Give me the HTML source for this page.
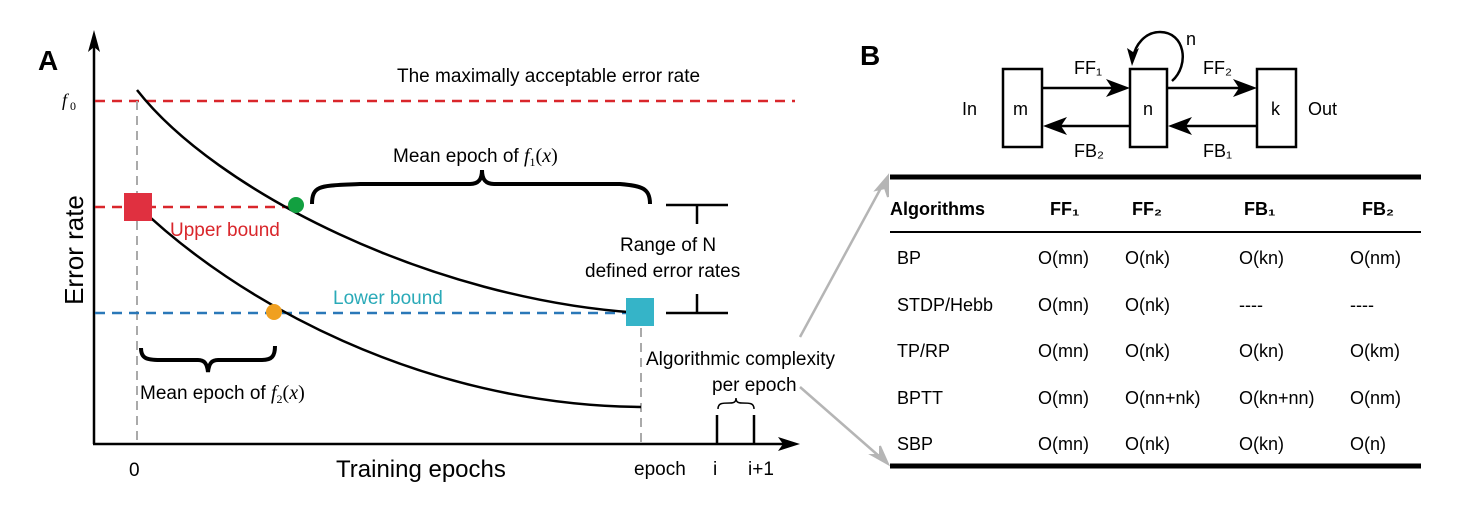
<!DOCTYPE html>
<html><head><style>
body{margin:0;background:#fff;}
svg text{font-family:"Liberation Sans",Arial,sans-serif;}
svg .s{font-family:"Liberation Serif",serif;}
</style></head><body>
<svg width="1480" height="527" viewBox="0 0 1480 527" xmlns="http://www.w3.org/2000/svg">
<rect width="1480" height="527" fill="#fff"/>
<text x="38" y="70" font-size="28" font-weight="bold">A</text>
<line x1="94" y1="40" x2="94" y2="444" stroke="#000" stroke-width="2.5"/>
<path d="M94 30 L88 52 L94 47 L100 52 Z" fill="#000"/>
<line x1="93" y1="444" x2="790" y2="444" stroke="#000" stroke-width="2.5"/>
<path d="M800 444 L778 437 L783 444 L778 451 Z" fill="#000"/>
<text class="s" x="62" y="106" font-size="18" font-style="italic">f</text>
<text class="s" x="70" y="110" font-size="12">0</text>
<line x1="95" y1="101" x2="795" y2="101" stroke="#d9262b" stroke-width="2.5" stroke-dasharray="10,7"/>
<text x="397" y="82" font-size="19">The maximally acceptable error rate</text>
<line x1="137" y1="101" x2="137" y2="442" stroke="#aaa" stroke-width="2" stroke-dasharray="9,6"/>
<line x1="641" y1="313" x2="641" y2="442" stroke="#aaa" stroke-width="2" stroke-dasharray="9,6"/>
<line x1="95" y1="207" x2="290" y2="207" stroke="#d9262b" stroke-width="2.5" stroke-dasharray="10,7"/>
<line x1="95" y1="313" x2="630" y2="313" stroke="#2a78b8" stroke-width="2.5" stroke-dasharray="10,7"/>
<path d="M137 90 C215 190 430 300 641 313" fill="none" stroke="#000" stroke-width="2.5"/>
<path d="M137 205 C235 300 420 405 641 407" fill="none" stroke="#000" stroke-width="2.5"/>
<rect x="124" y="193" width="28" height="28" fill="#e03040"/>
<rect x="626" y="298" width="28" height="28" fill="#35b4c8"/>
<circle cx="296" cy="205" r="8" fill="#12a040"/>
<circle cx="274" cy="312" r="8" fill="#f0a020"/>
<text x="170" y="236" font-size="19" fill="#d9262b">Upper bound</text>
<text x="333" y="304" font-size="19" fill="#2aaab8">Lower bound</text>
<path d="M312 204 C312 184 322 186 360 184 L470 184 C478 184 482 180 482 170 C482 180 486 184 494 184 L620 184 C642 186 650 188 650 204" fill="none" stroke="#000" stroke-width="4"/>
<text x="393" y="162" font-size="19">Mean epoch of <tspan class="s" font-style="italic" font-size="20">f</tspan><tspan class="s" font-size="12" dy="4">1</tspan><tspan class="s" font-size="20" dy="-4">(<tspan font-style="italic">x</tspan>)</tspan></text>
<line x1="666" y1="205" x2="728" y2="205" stroke="#000" stroke-width="2.5"/>
<line x1="697" y1="205" x2="697" y2="224" stroke="#000" stroke-width="2.5"/>
<line x1="666" y1="313" x2="728" y2="313" stroke="#000" stroke-width="2.5"/>
<line x1="697" y1="294" x2="697" y2="313" stroke="#000" stroke-width="2.5"/>
<text x="620" y="251" font-size="19">Range of N</text>
<text x="585" y="277" font-size="19">defined error rates</text>
<path d="M141 348 C141 358 146 360 160 360 L198 360 C204 360 207 363 208 372 C209 363 212 360 218 360 L262 360 C272 360 275 356 275 346" fill="none" stroke="#000" stroke-width="4"/>
<text x="140" y="399" font-size="19">Mean epoch of <tspan class="s" font-style="italic" font-size="20">f</tspan><tspan class="s" font-size="12" dy="4">2</tspan><tspan class="s" font-size="20" dy="-4">(<tspan font-style="italic">x</tspan>)</tspan></text>
<text x="646" y="365" font-size="19">Algorithmic complexity</text>
<text x="712" y="391" font-size="19">per epoch</text>
<path d="M718 409 C718 403 722 403 730 403 C734 403 736 402 736 398 C736 402 738 403 742 403 C750 403 754 403 754 409" fill="none" stroke="#000" stroke-width="1.5"/>
<line x1="717" y1="415" x2="717" y2="444" stroke="#000" stroke-width="2.5"/>
<line x1="754" y1="415" x2="754" y2="444" stroke="#000" stroke-width="2.5"/>
<text x="129" y="476" font-size="19">0</text>
<text x="336" y="477" font-size="24">Training epochs</text>
<text x="634" y="475" font-size="19">epoch</text>
<text x="713" y="475" font-size="19">i</text>
<text x="748" y="475" font-size="19">i+1</text>
<text transform="translate(83,250) rotate(-90)" font-size="26" text-anchor="middle">Error rate</text>
<line x1="800" y1="337" x2="882" y2="186" stroke="#b5b5b5" stroke-width="2.5"/>
<path d="M888 176 L876 190 L885 188 L888 197 Z" fill="#b5b5b5" stroke="#b5b5b5" stroke-width="2"/>
<line x1="800" y1="387" x2="880" y2="457" stroke="#b5b5b5" stroke-width="2.5"/>
<path d="M888 464 L872 455 L880 455 L880 446 Z" fill="#b5b5b5" stroke="#b5b5b5" stroke-width="2"/>
<text x="860" y="65" font-size="28" font-weight="bold">B</text>
<g fill="none" stroke="#000" stroke-width="2.5">
<rect x="1003" y="69" width="39" height="78"/>
<rect x="1130" y="69" width="37" height="78"/>
<rect x="1257" y="69" width="39" height="78"/>
<line x1="1042" y1="88" x2="1118" y2="88"/>
<line x1="1167" y1="88" x2="1245" y2="88"/>
<line x1="1055" y1="126" x2="1130" y2="126"/>
<line x1="1180" y1="126" x2="1257" y2="126"/>
<path d="M1172 81 C1190 65 1185 32 1160 32 C1145 32 1135 45 1133 58"/>
</g>
<g fill="#000">
<path d="M1130 88 L1106 79 L1112 88 L1106 97 Z"/>
<path d="M1257 88 L1233 79 L1239 88 L1233 97 Z"/>
<path d="M1043 126 L1067 117 L1061 126 L1067 135 Z"/>
<path d="M1168 126 L1192 117 L1186 126 L1192 135 Z"/>
<path d="M1132 66 L1127 48 L1133 52 L1139 48 Z"/>
</g>
<text x="1074" y="74" font-size="18">FF₁</text>
<text x="1203" y="74" font-size="18">FF₂</text>
<text x="1074" y="157" font-size="18">FB₂</text>
<text x="1203" y="157" font-size="18">FB₁</text>
<text x="1186" y="45" font-size="18">n</text>
<text x="962" y="115" font-size="18">In</text>
<text x="1013" y="115" font-size="18">m</text>
<text x="1143" y="115" font-size="18">n</text>
<text x="1271" y="115" font-size="18">k</text>
<text x="1308" y="115" font-size="18">Out</text>
<line x1="890" y1="177" x2="1421" y2="177" stroke="#000" stroke-width="5"/>
<line x1="890" y1="232" x2="1421" y2="232" stroke="#000" stroke-width="2"/>
<line x1="890" y1="466" x2="1421" y2="466" stroke="#000" stroke-width="5"/>
<g font-size="18" font-weight="bold">
<text x="890" y="215">Algorithms</text>
<text x="1050" y="215">FF₁</text>
<text x="1132" y="215">FF₂</text>
<text x="1244" y="215">FB₁</text>
<text x="1362" y="215">FB₂</text>
</g>
<g font-size="18">
<text x="897" y="264">BP</text><text x="1038" y="264">O(mn)</text><text x="1125" y="264">O(nk)</text><text x="1239" y="264">O(kn)</text><text x="1350" y="264">O(nm)</text>
<text x="897" y="311">STDP/Hebb</text><text x="1038" y="311">O(mn)</text><text x="1125" y="311">O(nk)</text><text x="1239" y="311">----</text><text x="1350" y="311">----</text>
<text x="897" y="357">TP/RP</text><text x="1038" y="357">O(mn)</text><text x="1125" y="357">O(nk)</text><text x="1239" y="357">O(kn)</text><text x="1350" y="357">O(km)</text>
<text x="897" y="404">BPTT</text><text x="1038" y="404">O(mn)</text><text x="1125" y="404">O(nn+nk)</text><text x="1239" y="404">O(kn+nn)</text><text x="1350" y="404">O(nm)</text>
<text x="897" y="450">SBP</text><text x="1038" y="450">O(mn)</text><text x="1125" y="450">O(nk)</text><text x="1239" y="450">O(kn)</text><text x="1350" y="450">O(n)</text>
</g>
</svg>
</body></html>
